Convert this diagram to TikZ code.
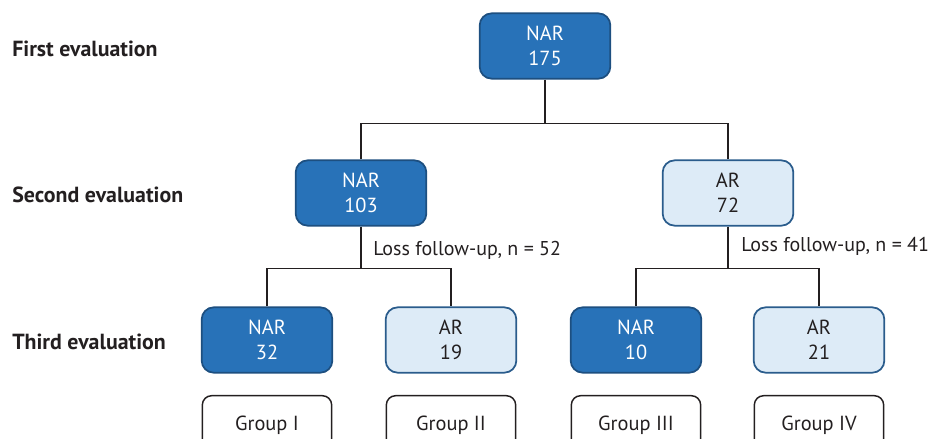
\documentclass[tikz,border=0pt]{standalone}
\usepackage{fontspec}
\setmainfont{PT Sans}
\usepackage{tikz}

\definecolor{darkblue}{HTML}{2872B8}
\definecolor{darkedge}{HTML}{1D4F80}
\definecolor{lightblue}{HTML}{DDEBF7}
\definecolor{lightedge}{HTML}{2A5C8C}
\definecolor{linegray}{HTML}{231F20}

\tikzset{
  box/.style={rounded corners=9pt, line width=1.3pt, minimum width=98pt,
    minimum height=49pt, align=center, font=\fontsize{15.3}{18.75}\selectfont},
  narbox/.style={box, draw=darkedge, fill=darkblue, text=white},
  arbox/.style={box, draw=lightedge, fill=lightblue, text=linegray},
  groupbox/.style={rounded corners=7pt, line width=1.1pt, draw=linegray,
    minimum width=97pt, minimum height=44pt, text=linegray,
    font=\fontsize{15.3}{17}\selectfont},
  evallabel/.style={anchor=west, inner sep=0pt, font=\bfseries\fontsize{16.4}{18}\selectfont, text=linegray},
  losslabel/.style={anchor=west, inner sep=0pt, font=\fontsize{15}{17}\selectfont, text=linegray},
  link/.style={draw=linegray, line width=1.3pt}
}

\begin{document}
\begin{tikzpicture}[x=0.75pt,y=-0.75pt]
      \useasboundingbox (0,0) rectangle (932,439);
      % evaluation rows
      \node[evallabel] (first) at (12,49) {First evaluation};
      \node[evallabel] (second) at (12,195) {Second evaluation};
      \node[evallabel] (third) at (12,342) {Third evaluation};
      % boxes
      \node[narbox] (nar1) at (545,46) {NAR\\175};
      \node[narbox] (nar2) at (361,193) {NAR\\103};
      \node[arbox] (ar2) at (728,193) {AR\\72};
      \node[narbox] (nar3a) at (267,340) {NAR\\32};
      \node[arbox] (ar3a) at (451,340) {AR\\19};
      \node[narbox] (nar3b) at (636,340) {NAR\\10};
      \node[arbox] (ar3b) at (819,340) {AR\\21};
      % groups
      \node[groupbox] (g1) at (267,425) {Group I};
      \node[groupbox] (g2) at (451,425) {Group II};
      \node[groupbox] (g3) at (636,425) {Group III};
      \node[groupbox] (g4) at (819,425) {Group IV};
      % connectors
      \draw[link] (nar1.south) -- ++(0,44) coordinate (j1);
      \draw[link] (nar2.north) |- (j1) -| (ar2.north);
      \draw[link] (nar2.south) -- ++(0,42) coordinate (j2);
      \draw[link] (nar3a.north) |- (j2) -| (ar3a.north);
      \draw[link] (ar2.south) -- ++(0,42) coordinate (j3);
      \draw[link] (nar3b.north) |- (j3) -| (ar3b.north);
      % losses
      \node[losslabel] (loss1) at (373,250) {Loss follow-up, n = 52};
      \node[losslabel] (loss2) at (741,246) {Loss follow-up, n = 41};
    \end{tikzpicture}
\end{document}
